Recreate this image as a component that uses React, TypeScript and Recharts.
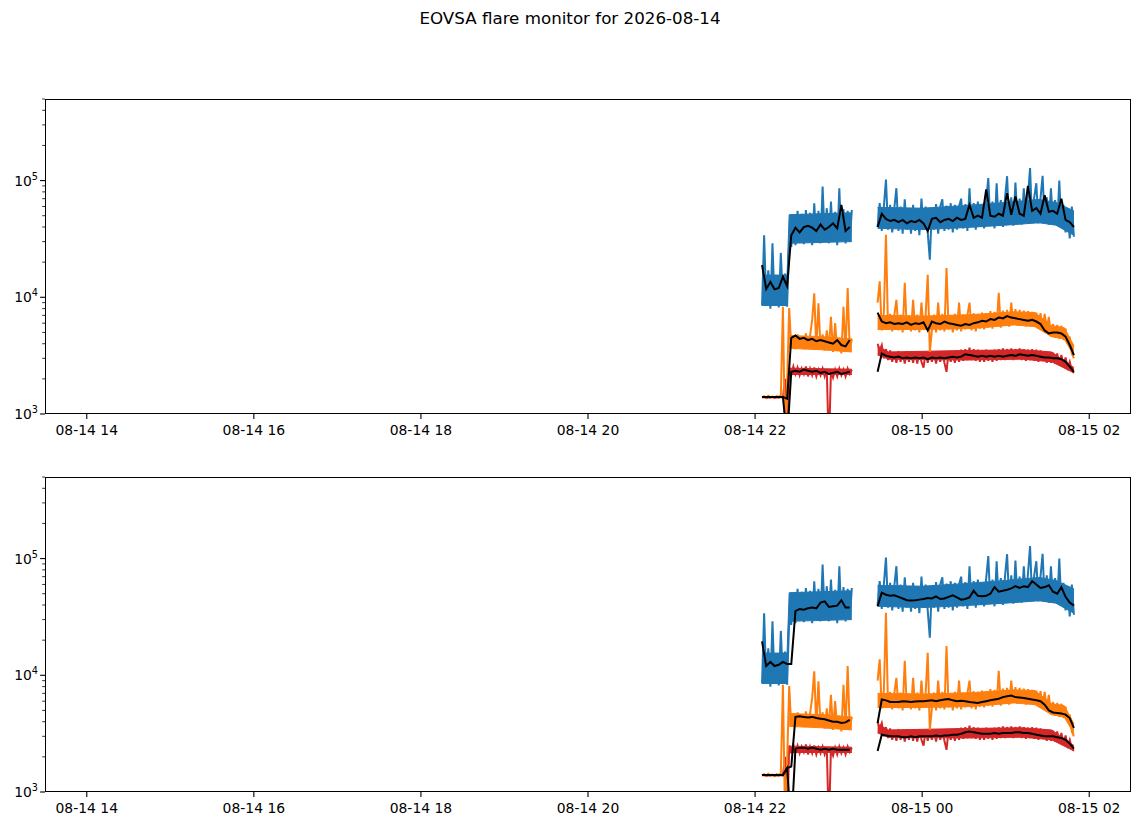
import React from 'react';
import { ComposedChart, Line, Area, XAxis, YAxis } from 'recharts';

// sample cadence (hours) and segment start times, hours since 08-14 00:00
const RAW_STEP = 1.5 / 60;
const FIT_STEP = 3 / 60;
const SEG1_START = 22 + 5 / 60;
const SEG2_START = 23 + 28 / 60;
const GAP_T = 23.3;

const xTicks = [14, 16, 18, 20, 22, 24, 26];
const yMajor = [1000, 10000, 100000];
const yMinor = [2000, 3000, 4000, 5000, 6000, 7000, 8000, 9000, 20000, 30000, 40000, 50000, 60000, 70000, 80000, 90000, 200000, 300000, 400000, 500000];

// raw light curves (same in both panels)
const blueSeg1 = [8500, 34000, 9000, 17000, 8000, 29000, 8500, 15500, 8200, 24000, 8800, 16000, 8300, 30000, 27000, 50000, 28000, 55000, 30000, 52000, 28500, 56000, 31000, 53000, 28000, 64000, 30000, 55000, 29000, 89000, 32000, 58000, 29000, 66000, 30000, 54000, 28000, 86000, 31000, 57000, 29000, 55000, 30000, 56000];
const blueSeg2 = [40000, 64000, 37000, 60000, 102000, 38000, 62000, 36000, 58000, 86000, 37000, 60000, 35000, 69000, 38000, 57000, 35000, 62000, 37000, 58000, 34000, 70000, 38000, 60000, 36000, 21000, 58000, 38000, 63000, 35000, 60000, 69000, 37000, 61000, 38000, 64000, 36000, 62000, 38000, 60000, 70000, 39000, 63000, 37000, 86000, 40000, 64000, 38000, 66000, 40000, 62000, 39000, 68000, 105000, 41000, 66000, 39000, 95000, 42000, 68000, 40000, 70000, 109000, 43000, 72000, 41000, 96000, 44000, 70000, 42000, 86000, 45000, 74000, 128000, 44000, 72000, 95000, 43000, 70000, 110000, 44000, 72000, 42000, 86000, 43000, 68000, 41000, 100000, 40000, 62000, 36000, 58000, 32000, 60000, 33000];
const orangeSeg1 = [1390, 1420, 1380, 1430, 1390, 1410, 1380, 1420, 1400, 1450, 8300, 600, 1800, 8100, 3700, 4700, 3600, 4800, 3700, 4600, 3600, 4900, 3700, 4700, 6400, 10800, 3600, 8900, 3700, 4800, 3500, 5200, 3600, 6800, 3400, 6000, 3500, 4500, 3300, 8300, 3400, 12000, 3500, 4400];
const orangeSeg2 = [9000, 13700, 5200, 7400, 34400, 5300, 7200, 5100, 7000, 9500, 5200, 7100, 5000, 13300, 5300, 7000, 5100, 9500, 5200, 7100, 5000, 9000, 5300, 7000, 15600, 3400, 5200, 7100, 5000, 9000, 5200, 7200, 5100, 17800, 5300, 7000, 5000, 7200, 5200, 9000, 5100, 7100, 5300, 7000, 9000, 5200, 7300, 5100, 7200, 5400, 7400, 5300, 7300, 5500, 7600, 5400, 7500, 5600, 10900, 5500, 7700, 5700, 7800, 5600, 9000, 5800, 7900, 5700, 7800, 5800, 7700, 5600, 7600, 5700, 7500, 5600, 7400, 5500, 7300, 5400, 7200, 5300, 6800, 4600, 5900, 4500, 5800, 4400, 5700, 4300, 5400, 4000, 4600, 3300, 3000];
const redSeg1 = [1380, 1400, 1370, 1390, 1380, 1400, 1370, 1390, 1380, 1400, 1380, 2000, 500, 2500, 2150, 2550, 2200, 2500, 2150, 2450, 2200, 2550, 2100, 2450, 2150, 2500, 2100, 2400, 2150, 2450, 2100, 2400, 500, 2350, 2050, 2400, 2100, 2450, 2150, 2400, 2100, 2450, 2200, 2400];
const redSeg2 = [4000, 3500, 3900, 3000, 3600, 2900, 3500, 2800, 3400, 2750, 3450, 2800, 3400, 2700, 3450, 2800, 3350, 2750, 3400, 2700, 3450, 2800, 2500, 3400, 2750, 3450, 2800, 3400, 2700, 3450, 2800, 3400, 2750, 2300, 3450, 2800, 3400, 2750, 3500, 2800, 3550, 2850, 3600, 2900, 3700, 2900, 3600, 2850, 3550, 2800, 3500, 2800, 3550, 2850, 3500, 2800, 3550, 2850, 3600, 2900, 3650, 2900, 3600, 2950, 3650, 2900, 3600, 2950, 3650, 2900, 3600, 2850, 3550, 2900, 3600, 2850, 3550, 2800, 3500, 2850, 3450, 2750, 3400, 2750, 3350, 2700, 3300, 2650, 3200, 2600, 3050, 2500, 2800, 2350, 2250];

// dense core of each noisy trace (envelope)
const blueBandT1 = [22.083, 22.383, 22.408, 23.158];
const blueBandLo1 = [8500, 8500, 29000, 30000];
const blueBandHi1 = [15500, 15500, 51000, 53000];
const blueBandT2 = [23.467, 24.0, 24.5, 25.0, 25.4, 25.6, 25.817];
const blueBandLo2 = [39000, 38000, 39500, 41500, 43500, 41500, 34000];
const blueBandHi2 = [59000, 58000, 61000, 65000, 69000, 65000, 55000];
const orangeBandT1 = [22.408, 22.8, 23.158];
const orangeBandLo1 = [3650, 3550, 3400];
const orangeBandHi1 = [4700, 4600, 4400];
const orangeBandT2 = [23.467, 24.0, 24.6, 25.1, 25.35, 25.55, 25.7, 25.817];
const orangeBandLo2 = [5300, 5300, 5400, 5800, 5600, 4600, 4400, 3150];
const orangeBandHi2 = [7000, 6900, 7100, 7500, 7400, 5700, 5500, 3850];
const redBandT1 = [22.408, 23.158];
const redBandLo1 = [2180, 2180];
const redBandHi1 = [2470, 2420];
const redBandT2 = [23.467, 23.6, 24.5, 25.2, 25.55, 25.817];
const redBandLo2 = [3200, 2950, 2900, 2950, 2800, 2250];
const redBandHi2 = [3800, 3400, 3500, 3550, 3400, 2500];

// smoothed curves, top panel
const topBlueFit1 = [18900, 11800, 13500, 11700, 12000, 15000, 12500, 34000, 39500, 36000, 40000, 41000, 39500, 37000, 42000, 38000, 40000, 43000, 39000, 62000, 37000, 40000];
const topBlueFit2 = [40000, 52000, 47000, 45000, 46000, 44000, 46000, 43000, 45000, 44000, 46000, 43000, 37000, 47000, 48000, 44000, 46000, 47000, 45000, 48000, 46000, 47000, 62000, 48000, 50000, 48000, 84000, 50000, 49000, 52000, 50000, 78000, 51000, 73000, 52000, 50000, 90000, 55000, 58000, 52000, 75000, 54000, 55000, 52000, 70000, 46000, 44000, 40000];
const topOrangeFit1 = [1400, 1400, 1400, 1400, 1400, 1400, 1350, 4500, 4700, 4400, 4500, 4300, 4400, 4200, 4300, 4200, 4100, 4000, 4300, 3900, 3800, 4300];
const topOrangeFit2 = [7400, 6200, 6000, 6100, 5900, 6000, 5900, 6100, 5800, 6000, 5900, 6100, 5200, 6200, 6000, 5900, 6200, 6000, 5900, 5800, 5700, 5900, 5800, 6000, 6100, 6300, 6200, 6500, 6400, 6700, 6600, 6900, 6700, 6600, 6500, 6400, 6300, 6400, 6200, 5900, 5200, 4900, 5000, 5000, 4900, 4600, 3900, 3200];
const topRedFit1 = [1400, 1400, 1400, 1400, 1400, 1400, 600, 2300, 2350, 2300, 2400, 2350, 2300, 2350, 2250, 2300, 2200, 2250, 2300, 2200, 2250, 2300];
const topRedFit2 = [2300, 3300, 3150, 3100, 3050, 3100, 3000, 3050, 3000, 3050, 3000, 3050, 2950, 3050, 3000, 3050, 3000, 3050, 3100, 3050, 3100, 3250, 3200, 3150, 3100, 3150, 3100, 3150, 3100, 3150, 3100, 3150, 3200, 3150, 3250, 3200, 3150, 3200, 3150, 3100, 3050, 3050, 3000, 3000, 2950, 2800, 2550, 2300];

// smoothed curves, bottom panel
const botBlueFit1 = [19500, 12000, 13000, 12000, 12300, 13000, 12500, 12500, 35500, 37000, 36500, 37500, 38000, 37500, 42000, 43000, 38500, 39000, 39500, 44000, 38000, 38000];
const botBlueFit2 = [39000, 51000, 49000, 48000, 48500, 47000, 45500, 44000, 43800, 44000, 44500, 45000, 46000, 45500, 47500, 45000, 45500, 47000, 48500, 46500, 44500, 45000, 46500, 53000, 48000, 47500, 48000, 50000, 57000, 52000, 53000, 54000, 55500, 58000, 56000, 58000, 57000, 64000, 60000, 56000, 57000, 59000, 52000, 50000, 57000, 47000, 42000, 39500];
const botOrangeFit1 = [1400, 1400, 1400, 1400, 1400, 1400, 1600, 1650, 4400, 4450, 4400, 4350, 4400, 4300, 4250, 4200, 4100, 4000, 4000, 3900, 3950, 4150];
const botOrangeFit2 = [3900, 6200, 6100, 5900, 5900, 5900, 6000, 5950, 5900, 5950, 6000, 6000, 6050, 6100, 6000, 6100, 6200, 6250, 6100, 6000, 6050, 6000, 5900, 5850, 5800, 5900, 6000, 6100, 6200, 6300, 6500, 6600, 6700, 6500, 6450, 6400, 6300, 6200, 6100, 6000, 5600, 5000, 4800, 4750, 4700, 4600, 4300, 3550];
const botRedFit1 = [1400, 1400, 1400, 1400, 1400, 1400, 1600, 500, 2350, 2400, 2400, 2350, 2400, 2350, 2300, 2350, 2300, 2350, 2300, 2300, 2300, 2300];
const botRedFit2 = [2250, 3100, 3050, 3000, 3000, 3000, 2950, 2950, 3000, 2950, 3000, 3000, 3000, 3000, 3050, 3000, 3050, 3050, 3100, 3100, 3150, 3250, 3300, 3250, 3200, 3150, 3150, 3150, 3200, 3150, 3200, 3200, 3200, 3250, 3250, 3200, 3200, 3150, 3100, 3050, 3000, 3000, 3000, 2950, 2900, 2800, 2600, 2350];

const BLUE = '#1f77b4';
const ORANGE = '#ff7f0e';
const RED = '#d62728';

const toSeries = (seg1: number[], seg2: number[], step: number) => [
  ...seg1.map((v, i) => ({ t: SEG1_START + i * step, v })),
  { t: GAP_T, v: null },
  ...seg2.map((v, i) => ({ t: SEG2_START + i * step, v })),
];

const toBand = (t1: number[], lo1: number[], hi1: number[], t2: number[], lo2: number[], hi2: number[]) => [
  ...t1.map((t, i) => ({ t, r: [lo1[i], hi1[i]] })),
  { t: GAP_T, r: null },
  ...t2.map((t, i) => ({ t, r: [lo2[i], hi2[i]] })),
];

const W = 1143;
const H = 440;
const M = { top: 99, right: 12, left: 0, bottom: 0 };
const FONT = 'DejaVu Sans, sans-serif';

const fmtX = (h: number) => {
  const day = h >= 24 ? '08-15' : '08-14';
  const hh = String(h % 24).padStart(2, '0');
  return `${day} ${hh}`;
};

const XTick = ({ x, y, payload }: any) => (
  <g>
    <line x1={x} y1={y} x2={x} y2={y + 4.9} stroke="#000" strokeWidth={1.1} />
    <text x={x} y={y + 20.5} textAnchor="middle" fontSize={13.9} fontFamily={FONT} fill="#000">
      {fmtX(payload.value)}
    </text>
  </g>
);

const YTick = ({ x, y, payload }: any) => {
  const major = yMajor.includes(payload.value);
  if (!major) {
    return <line x1={x} y1={y} x2={x - 2.8} y2={y} stroke="#000" strokeWidth={0.8} />;
  }
  const exp = Math.round(Math.log10(payload.value));
  return (
    <g>
      <line x1={x} y1={y} x2={x - 4.9} y2={y} stroke="#000" strokeWidth={1.1} />
      <text x={x - 7} y={y + 5} textAnchor="end" fontSize={13.9} fontFamily={FONT} fill="#000">
        <tspan>10</tspan>
        <tspan dy={-6} fontSize={9.7}>{exp}</tspan>
      </text>
    </g>
  );
};

interface Fits {
  blue: [number[], number[]];
  orange: [number[], number[]];
  red: [number[], number[]];
}

const Panel: React.FC<{ top: number; fits: Fits }> = ({ top, fits }) => {
  const raw = [
    {
      key: 'blue',
      color: BLUE,
      data: toSeries(blueSeg1, blueSeg2, RAW_STEP),
      band: toBand(blueBandT1, blueBandLo1, blueBandHi1, blueBandT2, blueBandLo2, blueBandHi2),
    },
    {
      key: 'red',
      color: RED,
      data: toSeries(redSeg1, redSeg2, RAW_STEP),
      band: toBand(redBandT1, redBandLo1, redBandHi1, redBandT2, redBandLo2, redBandHi2),
    },
    {
      key: 'orange',
      color: ORANGE,
      data: toSeries(orangeSeg1, orangeSeg2, RAW_STEP),
      band: toBand(orangeBandT1, orangeBandLo1, orangeBandHi1, orangeBandT2, orangeBandLo2, orangeBandHi2),
    },
  ];
  const smooth = [
    { key: 'fitBlue', data: toSeries(fits.blue[0], fits.blue[1], FIT_STEP) },
    { key: 'fitOrange', data: toSeries(fits.orange[0], fits.orange[1], FIT_STEP) },
    { key: 'fitRed', data: toSeries(fits.red[0], fits.red[1], FIT_STEP) },
  ];
  return (
    <div style={{ position: 'absolute', left: 0, top }}>
      <ComposedChart width={W} height={H} margin={M}>
        <XAxis
          dataKey="t"
          type="number"
          domain={[13.5, 26.5]}
          allowDataOverflow
          ticks={xTicks}
          interval={0}
          axisLine={false}
          tickLine={false}
          tickSize={0}
          tickMargin={0}
          height={26}
          tick={<XTick />}
        />
        <YAxis
          type="number"
          scale="log"
          domain={[1000, 500000]}
          allowDataOverflow
          ticks={[...yMajor, ...yMinor]}
          interval={0}
          axisLine={false}
          tickLine={false}
          tickSize={0}
          tickMargin={0}
          width={45}
          tick={<YTick />}
        />
        {raw.flatMap((s) => [
          <Area
            key={s.key + '-band'}
            data={s.band}
            dataKey="r"
            type="linear"
            stroke={s.color}
            strokeWidth={1}
            fill={s.color}
            fillOpacity={1}
            dot={false}
            activeDot={false}
            isAnimationActive={false}
          />,
          <Line
            key={s.key}
            data={s.data}
            dataKey="v"
            type="linear"
            stroke={s.color}
            strokeWidth={2}
            dot={false}
            isAnimationActive={false}
          />,
        ])}
        {smooth.map((s) => (
          <Line
            key={s.key}
            data={s.data}
            dataKey="v"
            type="linear"
            stroke="#000"
            strokeWidth={2}
            dot={false}
            isAnimationActive={false}
          />
        ))}
      </ComposedChart>
      <div
        style={{
          position: 'absolute',
          left: 45,
          top: 99,
          width: 1086,
          height: 315,
          border: '1px solid #000',
          boxSizing: 'border-box',
          pointerEvents: 'none',
        }}
      />
    </div>
  );
};

export default function App() {
  return (
    <div style={{ position: 'absolute', left: 0, top: 0, width: W, height: 826, background: '#fff', fontFamily: FONT }}>
      <svg width={W} height={40} style={{ position: 'absolute', left: 0, top: 0 }}>
        <text x={570} y={24} textAnchor="middle" fontSize={16.7} fontFamily={FONT} fill="#000">
          EOVSA flare monitor for 2026-08-14
        </text>
      </svg>
      <Panel top={0} fits={{ blue: [topBlueFit1, topBlueFit2], orange: [topOrangeFit1, topOrangeFit2], red: [topRedFit1, topRedFit2] }} />
      <Panel top={378} fits={{ blue: [botBlueFit1, botBlueFit2], orange: [botOrangeFit1, botOrangeFit2], red: [botRedFit1, botRedFit2] }} />
    </div>
  );
}
